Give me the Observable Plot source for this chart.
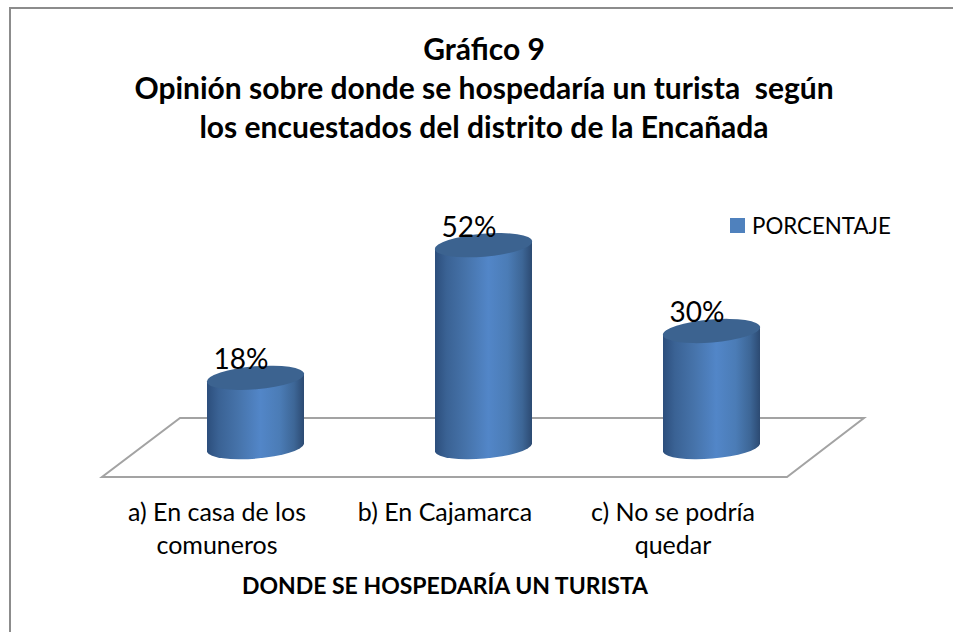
<!DOCTYPE html>
<html><head><meta charset="utf-8">
<script src="https://cdn.jsdelivr.net/npm/d3@7"></script>
<script src="https://cdn.jsdelivr.net/npm/@observablehq/plot@0.6"></script>
<style>
html,body{margin:0;padding:0;background:#fff}
#wrap{position:relative;width:953px;height:632px;overflow:hidden;font-family:Lato,sans-serif;color:#000}
#wrap svg{position:absolute;left:0;top:0}
#border{position:absolute;left:9px;top:7px;width:944px;height:625px;box-sizing:border-box;border-left:2px solid #8c8c8c;border-top:2px solid #8c8c8c}
.t{position:absolute;white-space:nowrap}
#title{left:0;width:968px;top:29px;text-align:center;font-weight:700;font-size:30px;line-height:39px}
#xtitle{left:0;width:890px;top:570px;text-align:center;font-weight:700;font-size:23px;line-height:30px}
#legend{left:752px;top:211px;font-size:22.3px;line-height:30px}
#swatch{position:absolute;left:730px;top:218px;width:15px;height:15px;background:#4f81bd}
</style></head><body>
<div id="wrap">
<div id="border"></div>
<div id="chart"></div>
<div class="t" id="title">Gráfico 9<br>Opinión sobre donde se hospedaría un turista&nbsp; según<br>los encuestados del distrito de la Encañada</div>
<div id="swatch"></div>
<div class="t" id="legend">PORCENTAJE</div>
<div class="t" id="xtitle">DONDE SE HOSPEDARÍA UN TURISTA</div>
</div>
<script>
const categories = ["a) En casa de los\ncomuneros", "b) En Cajamarca", "c) No se podría\nquedar"];
const values = [18, 52, 30];
const valueLabels = ["18%", "52%", "30%"];
const rows = categories.map((c, i) => ({c, v: values[i], l: valueLabels[i]}));

function cylinders(index, {x, y}, channels, dims, ctx) {
  const ns = "http://www.w3.org/2000/svg";
  const g = d3.select(ctx.document.createElementNS(ns, "g"));
  const defs = g.append("defs");
  const grad = defs.append("linearGradient").attr("id", "cyl");
  [[0,"#2c4e7c"],[.12,"#3a6294"],[.32,"#4673aa"],[.55,"#5286c8"],[.75,"#4b7cb6"],[.9,"#3d6696"],[1,"#2c4a72"]]
    .forEach(([o, c]) => grad.append("stop").attr("offset", o).attr("stop-color", c));
  const w = x.bandwidth(), y0 = y(0), rx = w / 2 + .3, ry = 11.5, rot = -4.7, drop = 4;
  for (const i of index) {
    const d = rows[i], l = x(d.c), r = l + w, top = y(d.v);
    g.append("path").attr("fill", "url(#cyl)")
      .attr("d", `M${l},${top+drop}L${l},${y0+drop}A${rx},${ry} ${rot} 0 0 ${r},${y0-drop}L${r},${top-drop}Z`);
    g.append("ellipse").attr("fill", "#3c6390")
      .attr("cx", l + w/2).attr("cy", top).attr("rx", rx).attr("ry", ry)
      .attr("transform", `rotate(${rot} ${l + w/2} ${top})`);
  }
  return g.node();
}
function floor(index, {x, y}, channels, dims, ctx) {
  const ns = "http://www.w3.org/2000/svg";
  const [a, b] = x.range(), y0 = y(0);
  const p = ctx.document.createElementNS(ns, "path");
  p.setAttribute("d", `M${a+105},${y0-30}L${b-28},${y0-30}L${b-105},${y0+29}L${a+27},${y0+29}Z`);
  p.setAttribute("fill", "none"); p.setAttribute("stroke", "#a3a3a3"); p.setAttribute("stroke-width", 2);
  return p;
}
const chart = Plot.plot({
  width: 953, height: 632, margin: 0,
  style: {background: "transparent", overflow: "visible"},
  x: {domain: categories, range: [75, 892], padding: 0.575, axis: null},
  y: {domain: [0, 60], range: [448, 214], axis: null},
  marks: [
    Plot.barY(rows, {x: "c", y: "v", render: floor}),
    Plot.barY(rows, {x: "c", y: "v", render: cylinders}),
    Plot.text(rows, {x: "c", y: "v", text: "l", dx: -15, dy: -18, fontSize: 28, fontFamily: "Lato", fill: "#000"}),
    Plot.text(rows, {x: "c", y: () => 0, text: "c", dx: -39, dy: 49, lineAnchor: "top", lineHeight: 1.32, fontSize: 25, fontFamily: "Lato", fill: "#000"})
  ]
});
document.getElementById("chart").append(chart);
</script>
</body></html>
